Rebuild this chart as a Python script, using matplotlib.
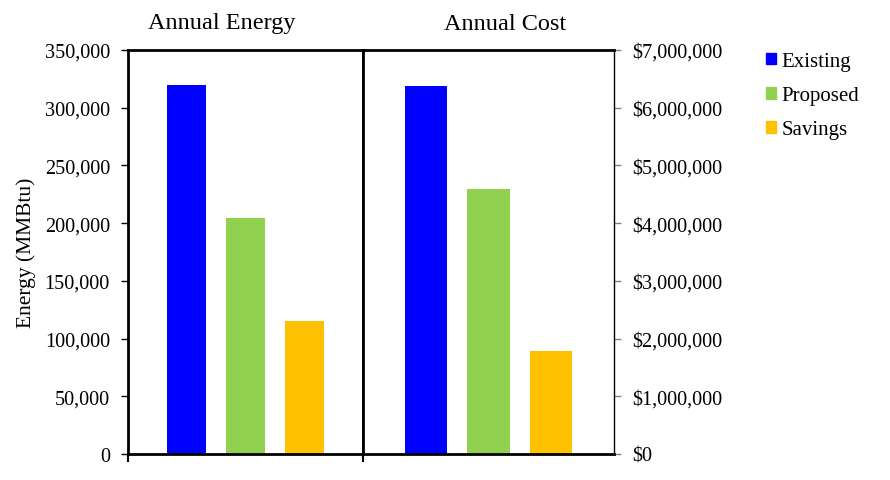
import matplotlib.pyplot as plt
from matplotlib.patches import Patch
from matplotlib.ticker import FuncFormatter

plt.rcParams['font.family'] = ['Liberation Serif', 'DejaVu Serif']

# data
series = ['Existing', 'Proposed', 'Savings']
colors = ['#0000FF', '#92D050', '#FFC000']
energy = [320000, 204500, 115200]      # MMBtu
cost = [6380000, 4590000, 1785000]     # $

W, H = 890, 481
fig = plt.figure(figsize=(W / 100, H / 100), dpi=100)

bot = (H - 455) / H
hgt = 404 / H
ax1 = fig.add_axes([128 / W, bot, 235 / W, hgt])
ax2 = fig.add_axes([363 / W, bot, 251 / W, hgt])

x = range(len(series))
ax1.bar(x, energy, width=0.66, color=colors)
ax2.bar(x, cost, width=0.67, color=colors)

for ax in (ax1, ax2):
    ax.set_xlim(-1, 3)
    ax.set_xticklabels([])
    ax.tick_params(axis='x', direction='out', length=6, width=1.5, color='black')
    for s in ax.spines.values():
        s.set_linewidth(2)
        s.set_color('black')
ax1.set_xticks([-1, 3])
ax2.set_xticks([])

# left axis
ax1.set_ylim(0, 350000)
ax1.set_yticks(range(0, 350001, 50000))
ax1.yaxis.set_major_formatter(FuncFormatter(lambda v, p: f'{int(v):,}'))
ax1.tick_params(axis='y', direction='out', length=5, width=1, labelsize=14.6, pad=8)
ax1.set_ylabel('Energy (MMBtu)', fontsize=15.5, labelpad=6)

# right axis
ax2.set_ylim(0, 7000000)
ax2.set_yticks(range(0, 7000001, 1000000))
ax2.yaxis.set_major_formatter(FuncFormatter(lambda v, p: f'${int(v):,}'))
ax2.yaxis.tick_right()
ax2.tick_params(axis='y', direction='out', length=5, width=1, color='gray', labelsize=14.6, pad=8)
ax2.spines['right'].set_linewidth(1)

# panel titles
fig.text(222 / W, 1 - 24 / H, 'Annual Energy', fontsize=17.5, ha='center', va='center')
fig.text(505 / W, 1 - 24 / H, 'Annual Cost', fontsize=17.5, ha='center', va='center')

handles = [Patch(color=c, label=s) for c, s in zip(colors, series)]
fig.legend(handles=handles, loc='upper left', bbox_to_anchor=(766 / W, 1 - 53 / H),
           frameon=False, fontsize=15, borderpad=0, borderaxespad=0,
           handlelength=0.48, handleheight=0.48,
           handletextpad=0.25, labelspacing=0.73)

fig.savefig('out.png', dpi=100)
